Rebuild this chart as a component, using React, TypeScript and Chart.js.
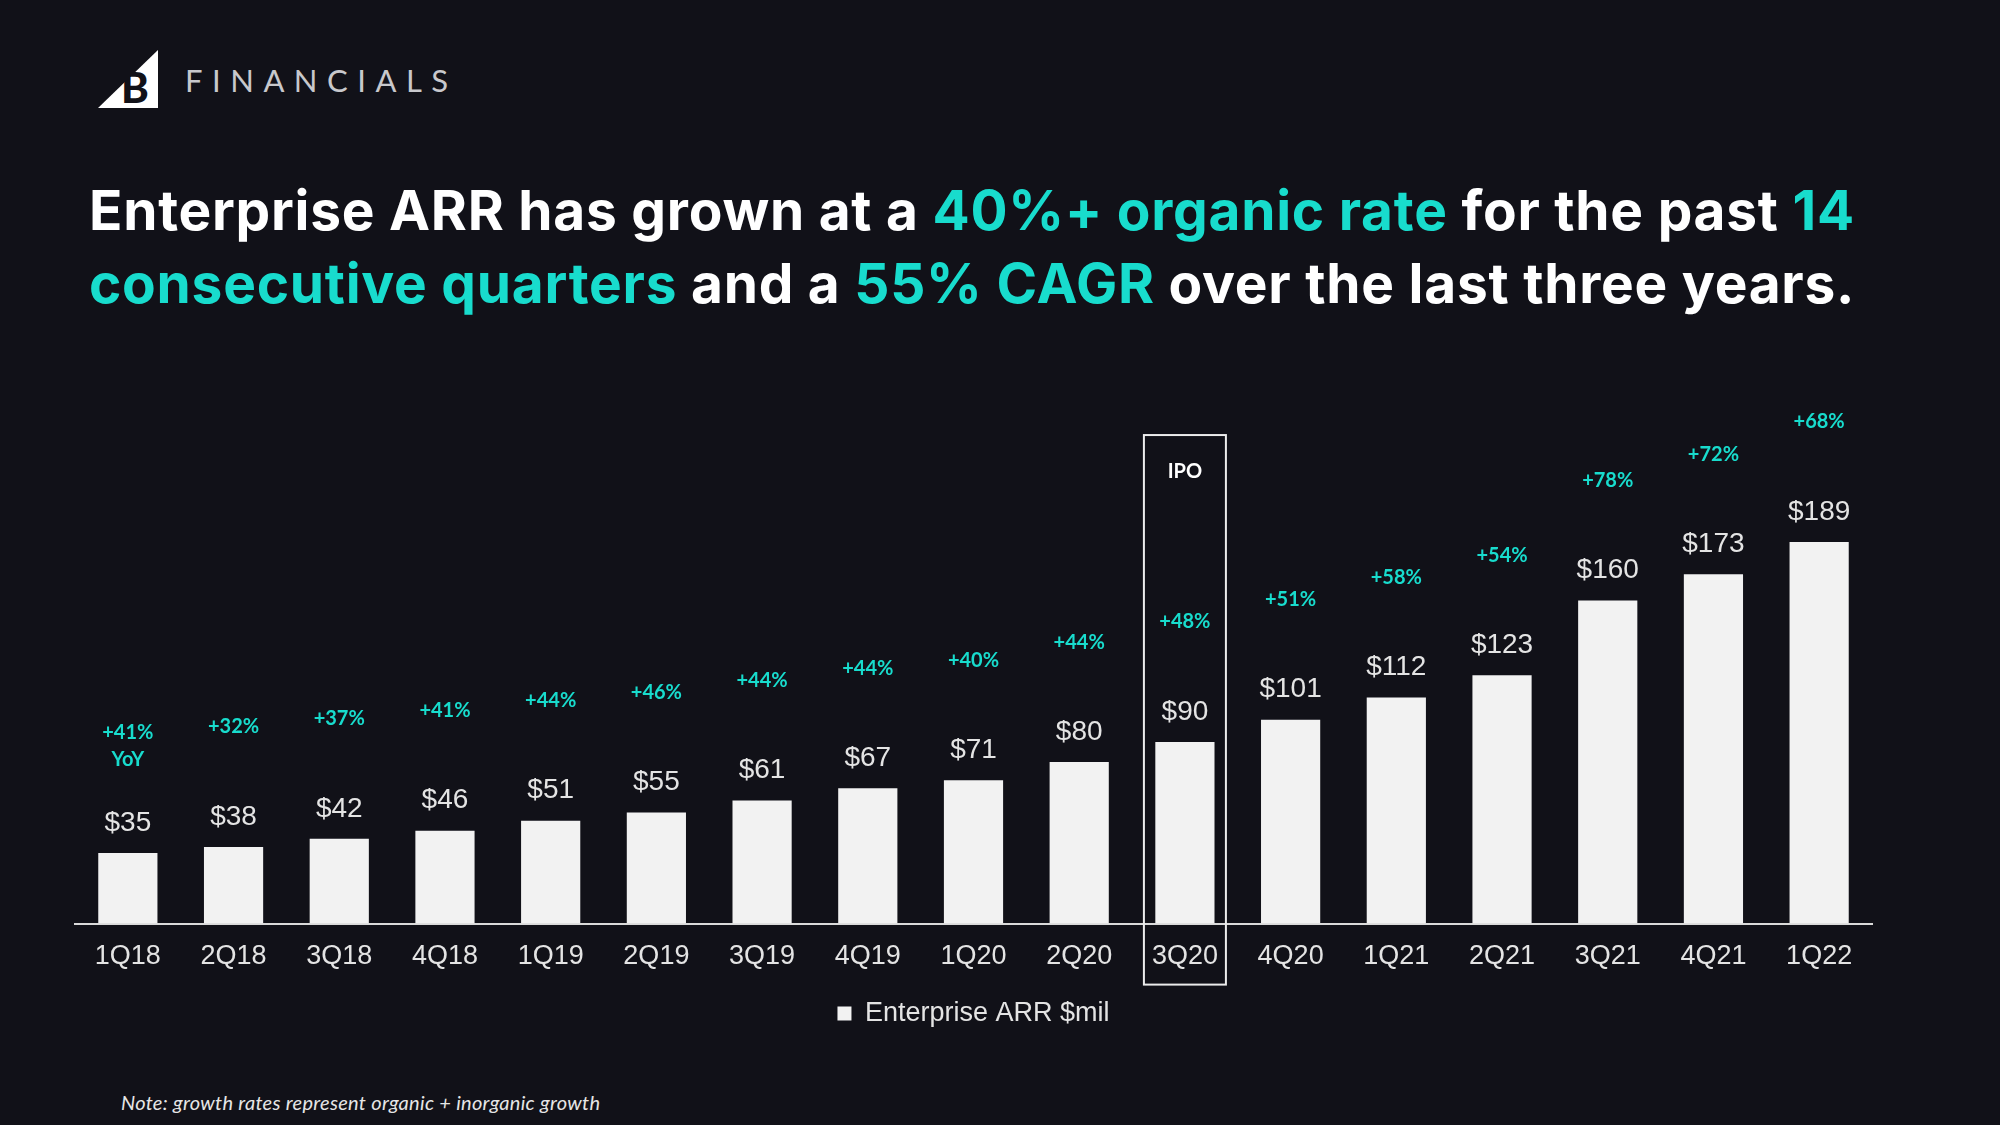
import React, { useEffect, useRef } from "react";
import { Chart, registerables } from "chart.js";

Chart.register(...registerables);

const BG = "#111118";
const CYAN = "#18dccd";
const BAR = "#f2f2f2";
const TEXT = "#e4e4e4";

const categories = ["1Q18", "2Q18", "3Q18", "4Q18", "1Q19", "2Q19", "3Q19", "4Q19", "1Q20", "2Q20", "3Q20", "4Q20", "1Q21", "2Q21", "3Q21", "4Q21", "1Q22"];
const arrValues = [35, 38, 42, 46, 51, 55, 61, 67, 71, 80, 90, 101, 112, 123, 160, 173, 189];
const growthLabels = ["+41%", "+32%", "+37%", "+41%", "+44%", "+46%", "+44%", "+44%", "+40%", "+44%", "+48%", "+51%", "+58%", "+54%", "+78%", "+72%", "+68%"];
const ipoCategory = "3Q20";
const seriesName = "Enterprise ARR $mil";

const labelsPlugin = {
  id: "barLabels",
  afterDatasetsDraw(chart: any) {
    const ctx = chart.ctx;
    const meta = chart.getDatasetMeta(0);
    ctx.save();
    ctx.textAlign = "center";
    ctx.textBaseline = "middle";
    meta.data.forEach((bar: any, i: number) => {
      const x = bar.x;
      const top = bar.y;
      ctx.fillStyle = TEXT;
      ctx.font = "28px 'Liberation Sans', Arial, sans-serif";
      ctx.fillText("$" + arrValues[i], x, top - 30);
      ctx.fillStyle = CYAN;
      ctx.font = "700 20px Lato, sans-serif";
      ctx.fillText(growthLabels[i], x, top - 120);
      if (i === 0) ctx.fillText("YoY", x, top - 93);
    });
    const xs = chart.scales.x;
    const ys = chart.scales.y;
    const idx = categories.indexOf(ipoCategory);
    const cx = xs.getPixelForValue(idx);
    const boxTop = ys.getPixelForValue(242);
    const boxBottom = chart.chartArea.bottom + 61;
    ctx.strokeStyle = "#ececec";
    ctx.lineWidth = 2;
    ctx.strokeRect(cx - 41, boxTop, 82, boxBottom - boxTop);
    ctx.fillStyle = "#ffffff";
    ctx.font = "700 20px Lato, sans-serif";
    ctx.fillText("IPO", cx, boxTop + 36);
    ctx.restore();
  },
};

export default function App() {
  const ref = useRef<HTMLCanvasElement>(null);
  useEffect(() => {
    document.body.style.margin = "0";
    document.body.style.background = BG;
    const chart = new Chart(ref.current!, {
      type: "bar",
      data: {
        labels: categories,
        datasets: [
          {
            label: seriesName,
            data: arrValues,
            backgroundColor: BAR,
            borderWidth: 0,
            categoryPercentage: 1,
            barPercentage: 0.56,
          },
        ],
      },
      plugins: [labelsPlugin],
      options: {
        responsive: false,
        animation: false,
        layout: { padding: { top: 30, left: 75, right: 128, bottom: 0 } },
        scales: {
          x: {
            grid: { display: false },
            border: { display: true, color: "#dadada", width: 2 },
            ticks: {
              color: TEXT,
              padding: 9,
              font: { size: 27, family: "'Liberation Sans', Arial, sans-serif" },
            },
          },
          y: {
            display: false,
            min: 0,
            max: 244.5,
          },
        },
        plugins: {
          legend: {
            position: "bottom",
            labels: {
              color: TEXT,
              padding: 18,
              boxWidth: 14,
              boxHeight: 14,
              font: { size: 27, family: "'Liberation Sans', Arial, sans-serif" },
            },
          },
          tooltip: { enabled: false },
        },
      },
    } as any);
    return () => chart.destroy();
  }, []);

  const white = { color: "#ffffff" };
  const cyan = { color: CYAN };

  return (
    <div style={{ position: "relative", width: 2000, height: 1125, background: BG, overflow: "hidden", fontFamily: "Lato, sans-serif" }}>
      <svg style={{ position: "absolute", left: 98, top: 50 }} width={62} height={60} viewBox="0 0 62 60">
        <polygon points="0,58 60,58 60,0" fill="#ffffff" />
        <text x={23} y={53} fontFamily="Lato, sans-serif" fontWeight={900} fontSize={42} fill={BG}>B</text>
      </svg>
      <div style={{ position: "absolute", left: 185, top: 61, fontSize: 31, letterSpacing: "9.5px", color: "#c8c8cc", lineHeight: "38px", fontWeight: 400 }}>
        FINANCIALS
      </div>
      <div style={{ position: "absolute", left: 89, top: 174, fontFamily: "Inter, sans-serif", fontSize: 55, fontWeight: 700, lineHeight: "73px", whiteSpace: "nowrap", letterSpacing: "0.75px" }}>
        <span style={white}>Enterprise ARR has grown at a </span>
        <span style={cyan}>40%+ organic rate</span>
        <span style={white}> for the past </span>
        <span style={cyan}>14</span>
        <br />
        <span style={cyan}>consecutive quarters</span>
        <span style={white}> and a </span>
        <span style={cyan}>55% CAGR</span>
        <span style={white}> over the last three years.</span>
      </div>
      <canvas ref={ref} width={2000} height={637} style={{ position: "absolute", left: 0, top: 400, width: 2000, height: 637 }} />
      <div style={{ position: "absolute", left: 121, top: 1089, fontSize: 20, fontStyle: "italic", color: "#e6e6e6", lineHeight: "26px", letterSpacing: "0.3px" }}>
        Note: growth rates represent organic + inorganic growth
      </div>
    </div>
  );
}
